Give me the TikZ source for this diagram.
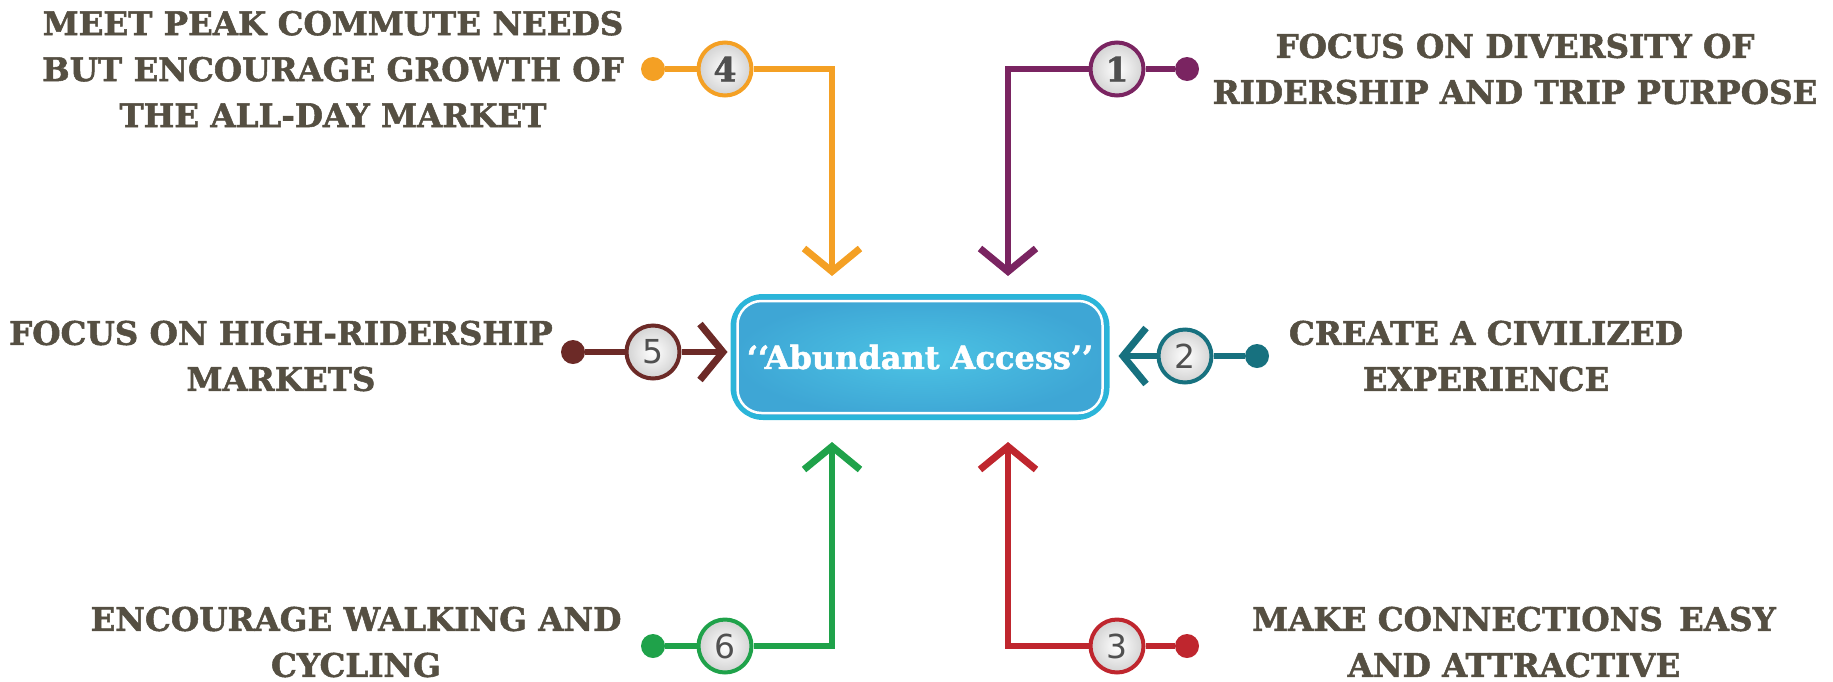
\documentclass[tikz,border=0pt]{standalone}
\usepackage{fontspec}
\usetikzlibrary{arrows.meta}
\newfontfamily\slab{DejaVu Serif}[BoldFeatures={FakeBold=1.6}]
\newfontfamily\numsans{DejaVu Sans}
\definecolor{txt}{HTML}{554F42}
\definecolor{cOr}{HTML}{F4A024}
\definecolor{cPu}{HTML}{7A2461}
\definecolor{cBr}{HTML}{6C2A27}
\definecolor{cTe}{HTML}{17717F}
\definecolor{cGr}{HTML}{1FA24A}
\definecolor{cRe}{HTML}{BF262E}
\definecolor{boxBorder}{HTML}{2BB5D9}
\definecolor{boxIn}{HTML}{4CC3E4}
\definecolor{boxOut}{HTML}{3EA6D5}
\definecolor{numgray}{HTML}{505050}
\tikzset{
  conn/.style={line width=6.5pt},
  tipped/.style={-{Straight Barb[length=23pt,width=56pt,line width=7pt]}},
  dot/.style={circle, inner sep=0pt, minimum size=24pt},
  num/.style={circle, draw, line width=4pt, minimum size=53pt, inner sep=0pt,
    inner color=white, outer color=gray!35, text=numgray},
  label/.style={align=center, text=txt, font=\slab\bfseries\fontsize{32.5}{46}\selectfont},
  mainbox/.style={rounded corners=30pt, draw=boxBorder, line width=5pt,
    inner color=boxIn, outer color=boxOut, minimum width=374pt, minimum height=121pt,
    text=white, font=\slab\bfseries\fontsize{32}{36}\selectfont}
}
\begin{document}
\begin{tikzpicture}[x=1pt,y=-1pt]
\useasboundingbox (0,0) rectangle (1833,681);
% central box
\node[mainbox] (box) at (920,357) {‘‘Abundant Access’’};
\draw[white, line width=2.5pt, rounded corners=24pt]
  ([shift={(7,7)}]box.north west) rectangle ([shift={(-7,-7)}]box.south east);

% 4 orange
\node[dot, fill=cOr] (d4) at (653,69) {};
\node[num, draw=cOr, font=\slab\bfseries\fontsize{33}{33}\selectfont] (n4) at (725,69) {4};
\coordinate (k4) at (832,69);
\draw[conn, cOr] (d4) -- (n4);
\draw[conn, cOr, tipped, shorten >=18pt] (n4) -- (k4) -- (k4 |- box.north);

% 1 purple
\node[dot, fill=cPu] (d1) at (1187,69) {};
\node[num, draw=cPu, font=\slab\bfseries\fontsize{33}{33}\selectfont] (n1) at (1117,69) {1};
\coordinate (k1) at (1008,69);
\draw[conn, cPu] (d1) -- (n1);
\draw[conn, cPu, tipped, shorten >=18pt] (n1) -- (k1) -- (k1 |- box.north);

% 5 brown
\node[dot, fill=cBr] (d5) at (573,352) {};
\node[num, draw=cBr, font=\numsans\fontsize{33}{33}\selectfont] (n5) at (653,352) {5};
\draw[conn, cBr] (d5) -- (n5);
\draw[conn, cBr, tipped, shorten >=3pt] (n5) -- (n5 -| box.west);

% 2 teal
\node[dot, fill=cTe] (d2) at (1257,356) {};
\node[num, draw=cTe, font=\numsans\fontsize{33}{33}\selectfont] (n2) at (1185,356) {2};
\draw[conn, cTe] (d2) -- (n2);
\draw[conn, cTe, tipped, shorten >=9pt] (n2) -- (n2 -| box.east);

% 6 green
\node[dot, fill=cGr] (d6) at (653,646) {};
\node[num, draw=cGr, font=\numsans\fontsize{33}{33}\selectfont] (n6) at (725,646) {6};
\coordinate (k6) at (832,646);
\draw[conn, cGr] (d6) -- (n6);
\draw[conn, cGr, tipped, shorten >=22pt] (n6) -- (k6) -- (k6 |- box.south);

% 3 red
\node[dot, fill=cRe] (d3) at (1187,646) {};
\node[num, draw=cRe, font=\numsans\fontsize{33}{33}\selectfont] (n3) at (1117,646) {3};
\coordinate (k3) at (1008,646);
\draw[conn, cRe] (d3) -- (n3);
\draw[conn, cRe, tipped, shorten >=22pt] (n3) -- (k3) -- (k3 |- box.south);

% labels
\node[label] (t4) at (333,69) {MEET PEAK COMMUTE NEEDS\\BUT ENCOURAGE GROWTH OF\\THE ALL-DAY MARKET};
\node[label] (t1) at (1515,69) {FOCUS ON DIVERSITY OF\\RIDERSHIP AND TRIP PURPOSE};
\node[label] (t5) at (281,356) {FOCUS ON HIGH-RIDERSHIP\\MARKETS};
\node[label] (t2) at (1486,356) {CREATE A CIVILIZED\\EXPERIENCE};
\node[label] (t6) at (356,642) {ENCOURAGE WALKING AND\\CYCLING};
\node[label] (t3) at (1514,642) {MAKE CONNECTIONS\enspace EASY\\AND ATTRACTIVE};
\end{tikzpicture}
\end{document}
